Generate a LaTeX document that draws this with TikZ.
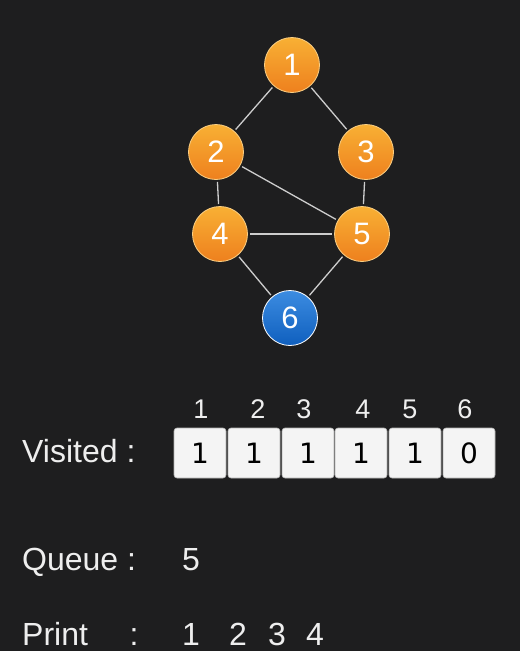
\documentclass[tikz,border=0pt]{standalone}
\usepackage{fontspec}
\setmainfont{Liberation Sans}
\newfontfamily\boxfont{DejaVu Sans}
\definecolor{bg}{RGB}{30,30,31}
\definecolor{orL}{RGB}{248,176,52}
\definecolor{orD}{RGB}{238,128,30}
\definecolor{blL}{RGB}{60,140,225}
\definecolor{blD}{RGB}{15,95,190}
\definecolor{edgec}{RGB}{205,205,205}
\definecolor{txt}{RGB}{238,238,238}
\definecolor{cellf}{RGB}{244,244,244}
\tikzset{
  vtx/.style={circle, minimum size=55pt, inner sep=0pt, draw=orL!60!white, line width=0.8pt,
    top color=orL, bottom color=orD, text=white, font=\fontsize{31}{33}\selectfont},
  vtxb/.style={vtx, draw=white, top color=blL, bottom color=blD},
  edge/.style={draw=edgec, line width=1.3pt, shorten >=2pt, shorten <=2pt},
  cell/.style={rectangle, rounded corners=3pt, minimum width=52pt, minimum height=50pt, inner sep=0pt,
    fill=cellf, draw=gray!60, line width=0.6pt, text=black, font=\boxfont\fontsize{28}{30}\selectfont},
  lbl/.style={text=txt, font=\fontsize{32}{34}\selectfont, inner sep=0pt, anchor=base},
  hdr/.style={text=txt, font=\fontsize{27}{29}\selectfont, inner sep=0pt, anchor=base}
}
\begin{document}
\begin{tikzpicture}[x=1pt,y=-1pt]
\fill[bg] (0,0) rectangle (520,651);
\useasboundingbox (0,0) rectangle (520,651);
% vertices
\node[vtx] (n1) at (292,65) {1};
\node[vtx] (n2) at (216,152) {2};
\node[vtx] (n3) at (366,152) {3};
\node[vtx] (n4) at (220,234) {4};
\node[vtx] (n5) at (362,234) {5};
\node[vtxb] (n6) at (290,318) {6};
% edges
\draw[edge] (n1) -- (n2);
\draw[edge] (n1) -- (n3);
\draw[edge] (n2) -- (n4);
\draw[edge] (n2) -- (n5);
\draw[edge] (n3) -- (n5);
\draw[edge] (n4) -- (n5);
\draw[edge] (n4) -- (n6);
\draw[edge] (n5) -- (n6);
% visited
\node[lbl, anchor=base west] (vl) at (22,462) {Visited :};
\node[cell] (c1) at (200,453) {1};
\node[cell] (c2) at (254,453) {1};
\node[cell] (c3) at (308,453) {1};
\node[cell] (c4) at (361,453) {1};
\node[cell] (c5) at (415,453) {1};
\node[cell] (c6) at (469,453) {0};
\node[hdr] (h1) at (201,418) {1};
\node[hdr] (h2) at (258,418) {2};
\node[hdr] (h3) at (304,418) {3};
\node[hdr] (h4) at (363,418) {4};
\node[hdr] (h5) at (410,418) {5};
\node[hdr] (h6) at (465,418) {6};
% queue
\node[lbl, anchor=base west] (ql) at (22,570) {Queue :};
\node[lbl] (q5) at (191,570) {5};
% print
\node[lbl, anchor=base west] (pl) at (22,645) {Print};
\node[lbl] (pc) at (134,645) {:};
\node[lbl] (p1) at (191,645) {1};
\node[lbl] (p2) at (238,645) {2};
\node[lbl] (p3) at (277,645) {3};
\node[lbl] (p4) at (315,645) {4};
\end{tikzpicture}
\end{document}
